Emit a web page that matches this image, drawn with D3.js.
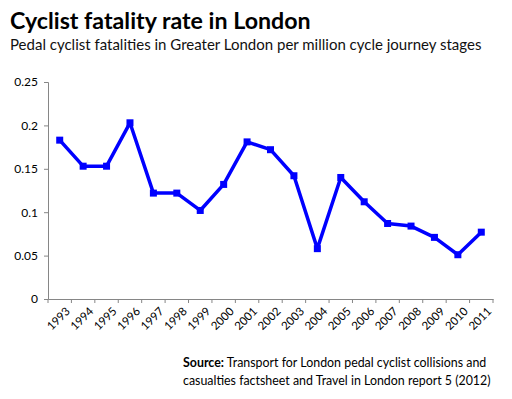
<!DOCTYPE html>
<html>
<head>
<meta charset="utf-8">
<script src="https://cdn.jsdelivr.net/npm/d3@7"></script>
<style>
  body { margin: 0; background: #fff; }
  text { font-family: Lato, "Open Sans", sans-serif; }
</style>
</head>
<body>
<div id="chart"></div>
<script>
const years = ['1993', '1994', '1995', '1996', '1997', '1998', '1999', '2000', '2001', '2002',
    '2003', '2004', '2005', '2006', '2007', '2008', '2009', '2010', '2011'];
const rates = [0.183, 0.153, 0.153, 0.203, 0.122, 0.122, 0.102, 0.132, 0.181, 0.172,
    0.142, 0.058, 0.140, 0.112, 0.087, 0.084, 0.071, 0.051, 0.077];
const yTicks = [0, 0.05, 0.1, 0.15, 0.2, 0.25];

const width = 512;
const height = 399;
const margin = { left: 48, right: 19, top: 82, bottom: 100 };

const svg = d3.select('#chart')
    .append('svg')
    .attr('width', width)
    .attr('height', height);

svg.append('text')
    .attr('x', 10)
    .attr('y', 29)
    .attr('font-size', 23.2)
    .attr('font-weight', 'bold')
    .text('Cyclist fatality rate in London');

svg.append('text')
    .attr('x', 10)
    .attr('y', 50)
    .attr('font-size', 15)
    .attr('fill', '#111')
    .text('Pedal cyclist fatalities in Greater London per million cycle journey stages');

const x = d3.scaleBand()
    .domain(years)
    .range([margin.left, width - margin.right]);

const y = d3.scaleLinear()
    .domain([0, 0.25])
    .range([height - margin.bottom, margin.top]);

// y axis
const yAxis = svg.append('g')
    .attr('transform', `translate(${margin.left},0)`)
    .call(d3.axisLeft(y).tickValues(yTicks).tickFormat(d => d).tickSize(4).tickPadding(6));
yAxis.select('.domain').attr('stroke', '#868686');
yAxis.selectAll('.tick line').attr('stroke', '#868686');
yAxis.selectAll('.tick text').attr('font-size', 12).attr('fill', '#000')
    .style('font-family', 'Lato, sans-serif');

// x axis, ticks between categories
const xAxis = svg.append('g')
    .attr('transform', `translate(0,${y(0)})`)
    .call(d3.axisBottom(x).tickSize(0).tickSizeOuter(0));
xAxis.select('.domain').attr('stroke', '#868686');
xAxis.selectAll('.tick text')
    .attr('font-size', 11.5)
    .attr('fill', '#000')
    .style('font-family', 'Lato, sans-serif')
    .attr('text-anchor', 'end')
    .attr('transform', 'translate(6,8) rotate(-45)')
    .attr('dy', '0.35em');

const boundaries = years.map(d => x(d)).concat([x.range()[1]]);
xAxis.selectAll('.bound')
    .data(boundaries)
    .enter()
    .append('line')
    .attr('x1', d => d)
    .attr('x2', d => d)
    .attr('y1', 0)
    .attr('y2', 4)
    .attr('stroke', '#868686');

const line = d3.line()
    .x((d, i) => x(years[i]) + x.bandwidth() / 2)
    .y(d => y(d));

svg.append('path')
    .datum(rates)
    .attr('d', line)
    .attr('fill', 'none')
    .attr('stroke', '#0000ff')
    .attr('stroke-width', 3.5)
    .attr('stroke-linejoin', 'round');

svg.selectAll('.marker')
    .data(rates)
    .enter()
    .append('rect')
    .attr('class', 'marker')
    .attr('x', (d, i) => x(years[i]) + x.bandwidth() / 2 - 3.5)
    .attr('y', d => y(d) - 3.5)
    .attr('width', 7)
    .attr('height', 7)
    .attr('fill', '#0000ff');

const source = svg.append('g')
    .attr('font-size', 12.4);
const line1 = source.append('text')
    .attr('x', 183)
    .attr('y', 367);
line1.append('tspan').attr('font-weight', 'bold').text('Source:');
line1.append('tspan').text(' Transport for London pedal cyclist collisions and');
source.append('text')
    .attr('x', 183)
    .attr('y', 385)
    .text('casualties factsheet and Travel in London report 5 (2012)');
</script>
</body>
</html>
